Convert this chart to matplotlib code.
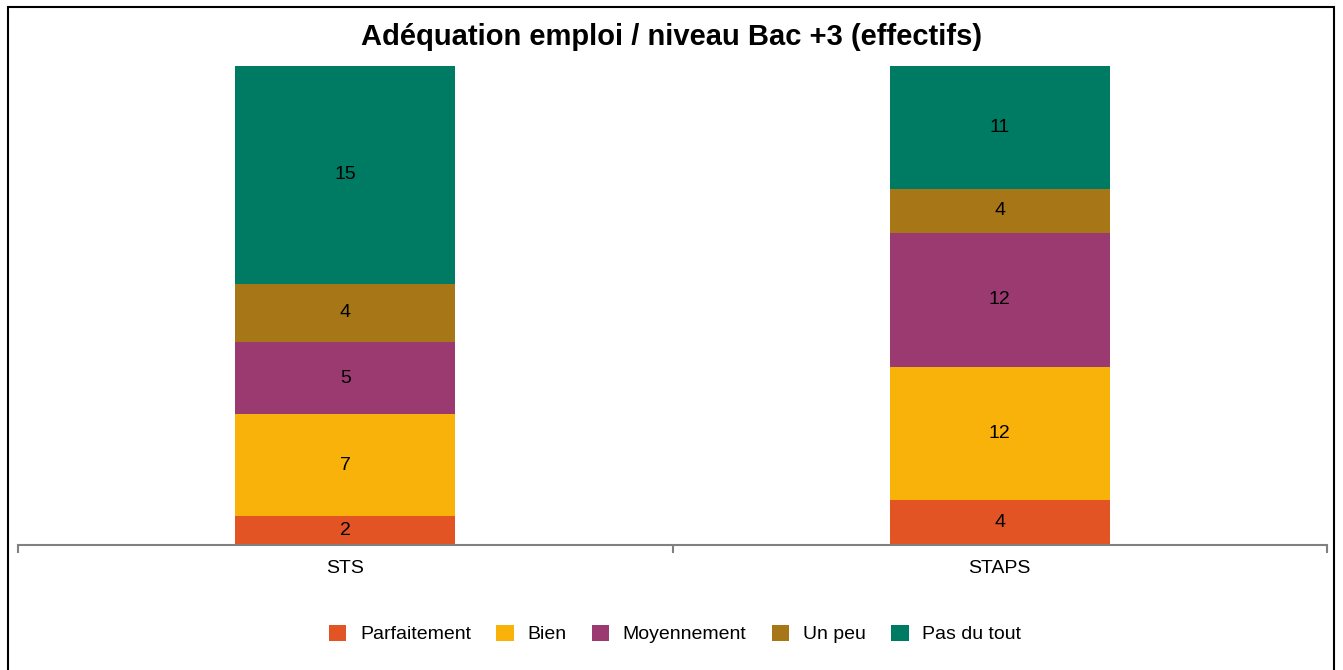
import numpy as np
import matplotlib.pyplot as plt
from matplotlib.patches import Rectangle

plt.rcParams['font.family'] = ['Liberation Sans', 'DejaVu Sans']

categories = ['STS', 'STAPS']
series = ['Parfaitement', 'Bien', 'Moyennement', 'Un peu', 'Pas du tout']
counts = {
    'Parfaitement': [2, 4],
    'Bien': [7, 12],
    'Moyennement': [5, 12],
    'Un peu': [4, 4],
    'Pas du tout': [15, 11],
}
colors = ['#E35425', '#F9B20A', '#9B3A70', '#A77616', '#007B63']
title = 'Adéquation emploi / niveau Bac +3 (effectifs)'

W, H = 1343, 670
fig = plt.figure(figsize=(W / 100, H / 100), dpi=100)
ax = fig.add_axes([18 / W, (H - 545) / H, (1327 - 18) / W, (545 - 66) / H])

totals = np.sum([counts[s] for s in series], axis=0)
x = np.arange(len(categories))
bottom = np.zeros(len(categories))
for s, c in zip(series, colors):
    vals = np.array(counts[s], dtype=float)
    frac = vals / totals
    ax.bar(x, frac, bottom=bottom, width=0.336, color=c, label=s, linewidth=0)
    for xi, b, f, v in zip(x, bottom, frac, vals):
        ax.text(xi, b + f / 2, '%d' % v, ha='center', va='center', fontsize=14, color='black')
    bottom += frac

ax.set_xlim(-0.5, len(categories) - 0.5)
ax.set_ylim(0, 1)
for sp in ['top', 'right', 'left']:
    ax.spines[sp].set_visible(False)
ax.spines['bottom'].set_color('#808080')
ax.spines['bottom'].set_linewidth(1.5)
ax.set_yticks([])
ax.set_xticks(np.arange(-0.5, len(categories), 1.0))
ax.set_xticklabels([])
ax.set_xticks(x, minor=True)
ax.set_xticklabels(categories, minor=True, fontsize=14)
ax.tick_params(axis='x', which='major', length=6, width=1.5, color='#808080')
ax.tick_params(axis='x', which='minor', length=0, pad=11)

fig.text(0.5, 1 - 37 / H, title, ha='center', va='center', fontsize=21, fontweight='bold')

fig.legend(loc='center', bbox_to_anchor=(675 / W, 1 - 634 / H), ncol=5, frameon=False,
           fontsize=14, handlelength=0.9, handleheight=0.9, handletextpad=0.7, columnspacing=1.3)

fig.add_artist(Rectangle((8 / W, -0.05), (1334 - 8) / W, 0.05 + (H - 7) / H,
                         transform=fig.transFigure, fill=False, edgecolor='black', linewidth=1.5))

fig.savefig('out.png', dpi=100)
